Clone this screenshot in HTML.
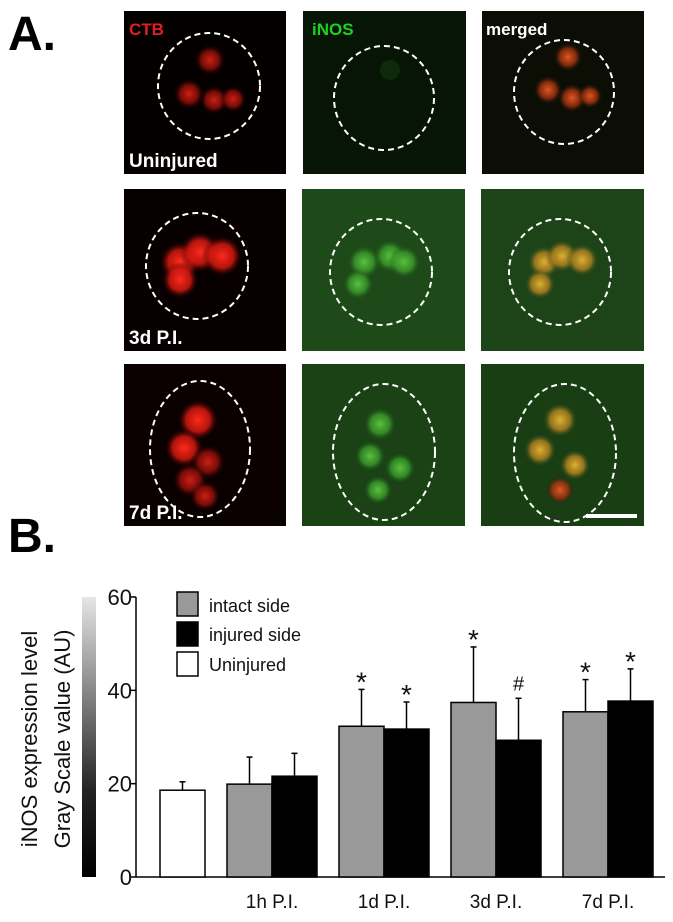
<!DOCTYPE html>
<html><head><meta charset="utf-8"><style>
html,body{margin:0;padding:0;background:#fff}
svg{display:block;font-family:"Liberation Sans","DejaVu Sans",sans-serif}
</style></head><body>
<svg width="673" height="922" viewBox="0 0 673 922">
<defs>
<radialGradient id="rb"><stop offset="0" stop-color="#ff2a1a"/><stop offset="0.6" stop-color="#d01810" stop-opacity="0.85"/><stop offset="1" stop-color="#300" stop-opacity="0"/></radialGradient>
<radialGradient id="rbd"><stop offset="0" stop-color="#d02015"/><stop offset="0.6" stop-color="#901008" stop-opacity="0.8"/><stop offset="1" stop-color="#200" stop-opacity="0"/></radialGradient>
<radialGradient id="gb"><stop offset="0" stop-color="#5cc040"/><stop offset="0.6" stop-color="#3a9a2a" stop-opacity="0.8"/><stop offset="1" stop-color="#1f5a1a" stop-opacity="0"/></radialGradient>
<radialGradient id="yb"><stop offset="0" stop-color="#e0b030"/><stop offset="0.6" stop-color="#b08020" stop-opacity="0.8"/><stop offset="1" stop-color="#2a4a18" stop-opacity="0"/></radialGradient>
<radialGradient id="ob"><stop offset="0" stop-color="#e05a20"/><stop offset="0.6" stop-color="#a03010" stop-opacity="0.8"/><stop offset="1" stop-color="#1a1a08" stop-opacity="0"/></radialGradient>
<linearGradient id="cbar" x1="0" y1="1" x2="0" y2="0"><stop offset="0" stop-color="#000"/><stop offset="0.3" stop-color="#222"/><stop offset="1" stop-color="#e6e6e6"/></linearGradient>
</defs>

<text x="8" y="50" font-size="48" font-weight="bold">A.</text>
<text x="8" y="552" font-size="48" font-weight="bold">B.</text>

<!-- Row 1 -->
<g>
<rect x="124" y="11" width="162" height="163" fill="#050000"/>
<circle cx="210" cy="60" r="15" fill="url(#rbd)"/><circle cx="189" cy="94" r="15" fill="url(#rbd)"/><circle cx="214" cy="100" r="14" fill="url(#rbd)"/><circle cx="233" cy="99" r="13" fill="url(#rbd)"/>
<ellipse cx="209" cy="86" rx="51" ry="53" fill="none" stroke="#fff" stroke-width="2" stroke-dasharray="6,4"/>
<text x="129" y="35" font-size="17" font-weight="bold" fill="#e02020">CTB</text>
<text x="129" y="167" font-size="19" font-weight="bold" fill="#fff">Uninjured</text>
</g>
<g>
<rect x="303" y="11" width="163" height="163" fill="#071507"/>
<circle cx="390" cy="70" r="10" fill="#0e2a0c"/>
<ellipse cx="384" cy="98" rx="50" ry="52" fill="none" stroke="#fff" stroke-width="2" stroke-dasharray="6,4"/>
<text x="312" y="35" font-size="17" font-weight="bold" fill="#20d020">iNOS</text>
</g>
<g>
<rect x="482" y="11" width="162" height="163" fill="#0c0e05"/>
<circle cx="568" cy="57" r="14" fill="url(#ob)"/><circle cx="548" cy="90" r="14" fill="url(#ob)"/><circle cx="572" cy="98" r="14" fill="url(#ob)"/><circle cx="590" cy="96" r="12" fill="url(#ob)"/>
<ellipse cx="564" cy="92" rx="50" ry="52" fill="none" stroke="#fff" stroke-width="2" stroke-dasharray="6,4"/>
<text x="486" y="35" font-size="17" font-weight="bold" fill="#fff">merged</text>
</g>

<!-- Row 2 -->
<g>
<rect x="124" y="189" width="162" height="162" fill="#080000"/>
<circle cx="180" cy="262" r="20" fill="url(#rb)"/><circle cx="200" cy="252" r="20" fill="url(#rb)"/><circle cx="222" cy="256" r="20" fill="url(#rb)"/><circle cx="180" cy="280" r="18" fill="url(#rb)"/>
<ellipse cx="197" cy="266" rx="51" ry="53" fill="none" stroke="#fff" stroke-width="2" stroke-dasharray="6,4"/>
<text x="129" y="344" font-size="19" font-weight="bold" fill="#fff">3d P.I.</text>
</g>
<g>
<rect x="302" y="189" width="163" height="162" fill="#1d4a18"/>
<circle cx="364" cy="262" r="16" fill="url(#gb)"/><circle cx="390" cy="256" r="16" fill="url(#gb)"/><circle cx="404" cy="262" r="16" fill="url(#gb)"/><circle cx="358" cy="284" r="15" fill="url(#gb)"/>
<ellipse cx="381" cy="272" rx="51" ry="53" fill="none" stroke="#fff" stroke-width="2" stroke-dasharray="6,4"/>
</g>
<g>
<rect x="481" y="189" width="163" height="162" fill="#1d4418"/>
<circle cx="544" cy="262" r="16" fill="url(#yb)"/><circle cx="562" cy="256" r="16" fill="url(#yb)"/><circle cx="582" cy="260" r="16" fill="url(#yb)"/><circle cx="540" cy="284" r="15" fill="url(#yb)"/>
<ellipse cx="560" cy="272" rx="51" ry="53" fill="none" stroke="#fff" stroke-width="2" stroke-dasharray="6,4"/>
</g>

<!-- Row 3 -->
<g>
<rect x="124" y="364" width="162" height="162" fill="#0a0000"/>
<circle cx="198" cy="420" r="20" fill="url(#rb)"/><circle cx="184" cy="448" r="19" fill="url(#rb)"/><circle cx="208" cy="462" r="17" fill="url(#rbd)"/><circle cx="190" cy="480" r="17" fill="url(#rbd)"/><circle cx="205" cy="496" r="15" fill="url(#rbd)"/>
<ellipse cx="200" cy="449" rx="50" ry="68" fill="none" stroke="#fff" stroke-width="2" stroke-dasharray="6,4"/>
<text x="129" y="519" font-size="19" font-weight="bold" fill="#fff">7d P.I.</text>
</g>
<g>
<rect x="302" y="364" width="163" height="162" fill="#1a4215"/>
<circle cx="380" cy="424" r="16" fill="url(#gb)"/><circle cx="370" cy="456" r="15" fill="url(#gb)"/><circle cx="400" cy="468" r="15" fill="url(#gb)"/><circle cx="378" cy="490" r="14" fill="url(#gb)"/>
<ellipse cx="384" cy="452" rx="51" ry="68" fill="none" stroke="#fff" stroke-width="2" stroke-dasharray="6,4"/>
</g>
<g>
<rect x="481" y="364" width="163" height="162" fill="#193e14"/>
<circle cx="560" cy="420" r="17" fill="url(#yb)"/><circle cx="540" cy="450" r="16" fill="url(#yb)"/><circle cx="575" cy="465" r="15" fill="url(#yb)"/><circle cx="560" cy="490" r="14" fill="url(#ob)"/>
<ellipse cx="565" cy="453" rx="51" ry="69" fill="none" stroke="#fff" stroke-width="2" stroke-dasharray="6,4"/>
<rect x="586" y="514" width="51" height="4" fill="#fff"/>
</g>

<!-- Chart -->
<rect x="82" y="597" width="14" height="280" fill="url(#cbar)"/>
<text transform="translate(37,739) rotate(-90)" text-anchor="middle" font-size="22" fill="#111">iNOS expression level</text>
<text transform="translate(70,739) rotate(-90)" text-anchor="middle" font-size="22" fill="#111">Gray Scale value (AU)</text>
<g id="chart"></g>
<g>
<rect x="177" y="592" width="21" height="24" fill="#999" stroke="#000" stroke-width="1.5"/>
<text x="209" y="612" font-size="18" fill="#111">intact side</text>
<rect x="177" y="622" width="21" height="24" fill="#000" stroke="#000" stroke-width="1.5"/>
<text x="209" y="641" font-size="18" fill="#111">injured side</text>
<rect x="177" y="652" width="21" height="24" fill="#fff" stroke="#000" stroke-width="1.5"/>
<text x="209" y="671" font-size="18" fill="#111">Uninjured</text>
</g>
</svg>
<script>
const categories = ["1h P.I.", "1d P.I.", "3d P.I.", "7d P.I."];
const intactValues = [19.9, 32.3, 37.4, 35.4];
const intactErrors = [5.8, 7.9, 11.9, 6.9];
const injuredValues = [21.6, 31.7, 29.3, 37.7];
const injuredErrors = [4.9, 5.8, 9.0, 6.9];
const intactMarks = ["", "*", "*", "*"];
const injuredMarks = ["", "*", "#", "*"];
const uninjuredValue = 18.6;
const uninjuredError = 1.8;
const yTicks = [0, 20, 40, 60];

const NS = "http://www.w3.org/2000/svg";
const g = document.getElementById("chart");
const y0 = 877, yTop = 597, yMax = 60, axisX = 136;
const yScale = v => y0 - v / yMax * (y0 - yTop);
const groupX = i => 227 + i * 112;
const barW = 45;
function el(tag, attrs, parent) {
  const e = document.createElementNS(NS, tag);
  for (const k in attrs) e.setAttribute(k, attrs[k]);
  (parent || g).appendChild(e);
  return e;
}
const ya = el("line", {x1: axisX, y1: yTop, x2: axisX, y2: y0, stroke: "#000", "stroke-width": 1.5});


const xa = el("line", {x1: axisX, y1: y0, x2: 665, y2: y0, stroke: "#000", "stroke-width": 1.5});


yTicks.forEach(t => {
  const y = yScale(t);
  el("line", {x1: axisX - 5, y1: y, x2: axisX, y2: y, stroke: "#000", "stroke-width": 1.5});
  const tx = el("text", {x: axisX - 4, y: y + 8, "text-anchor": "end", "font-size": 22, fill: "#111"});
  tx.textContent = t;
  
  
});
function bar(x, v, err, fill, mark, name) {
  const y = yScale(v), ye = yScale(v + err), cx = x + barW / 2;
  el("line", {x1: cx, y1: y, x2: cx, y2: ye, stroke: "#000", "stroke-width": 1.5});
  el("line", {x1: cx - 3, y1: ye, x2: cx + 3, y2: ye, stroke: "#000", "stroke-width": 1.5});
  const r = el("rect", {x: x, y: y, width: barW, height: y0 - y, fill: fill, stroke: "#000", "stroke-width": 1.5});
  
  
  if (mark) {
    const m = el("text", {x: cx, y: ye - 8 + (mark === "#" ? 0 : 10), "text-anchor": "middle", "font-size": mark === "#" ? 20 : 28, fill: "#111"});
    m.textContent = mark;
    
    
  }
}
bar(160, uninjuredValue, uninjuredError, "#fff", "", "bar-uninjured");
categories.forEach((c, i) => {
  const x = groupX(i);
  bar(x, intactValues[i], intactErrors[i], "#999", intactMarks[i], "bar-intact-" + i);
  bar(x + barW, injuredValues[i], injuredErrors[i], "#000", injuredMarks[i], "bar-injured-" + i);
  const t = el("text", {x: x + barW, y: 908, "text-anchor": "middle", "font-size": 19, fill: "#111"});
  t.textContent = c;
  
  
});
</script>
</body></html>
